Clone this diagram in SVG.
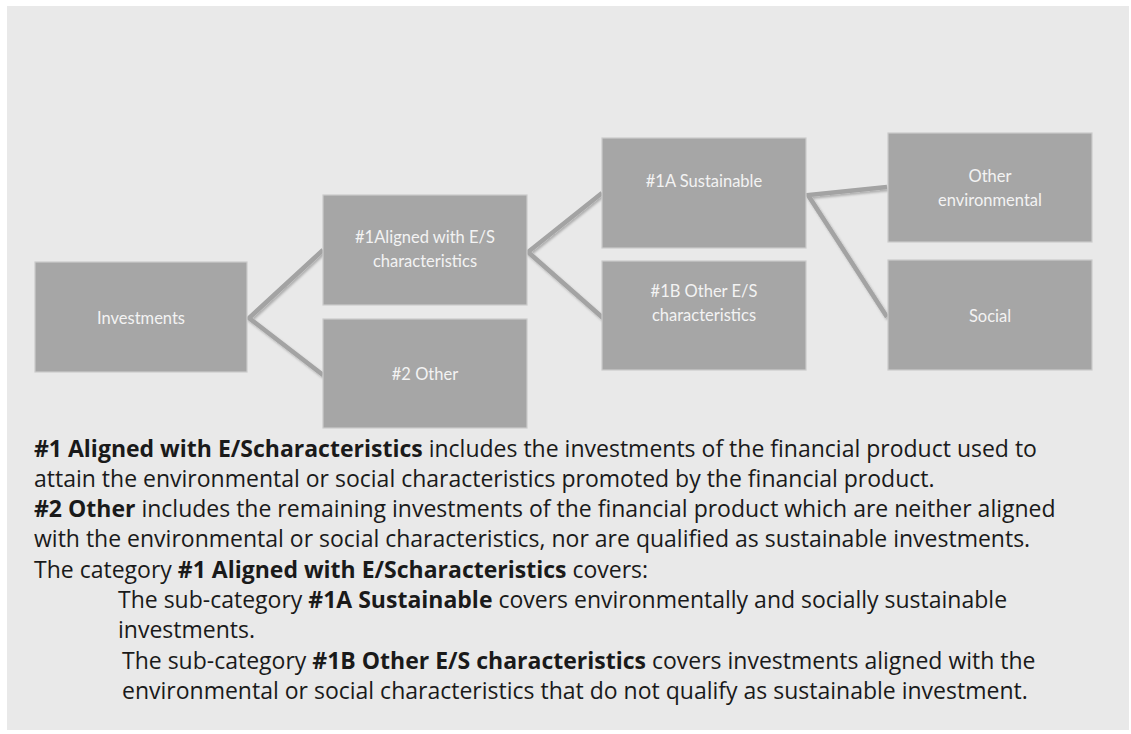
<svg xmlns="http://www.w3.org/2000/svg" width="1131" height="734" viewBox="0 0 1131 734">
<style>
.box{fill:#a6a6a6;stroke:#cbcbcb;stroke-width:1.2}
.bt{font-family:Lato,"Open Sans",sans-serif;font-size:16.5px;fill:#f3f3f3;text-anchor:middle}
.con{fill:none;stroke:#a3a3a3;stroke-width:4.5;stroke-linejoin:miter;filter:url(#sh)}
.body{font-family:"Open Sans","Noto Sans",sans-serif;font-size:23px;fill:#1a1a1a}
.b{font-weight:bold}
</style>
<defs>
<filter id="sh" x="-20%" y="-20%" width="140%" height="140%">
<feDropShadow dx="1.5" dy="2" stdDeviation="1.2" flood-color="#000" flood-opacity="0.25"/>
</filter>
</defs>
<rect x="0" y="0" width="1131" height="734" fill="#ffffff"/>
<rect x="7" y="6" width="1122" height="724" fill="#e9e9e9"/>
<g id="connectors">
<path class="con" d="M323,250 L249,318 L323,375"/>
<path class="con" d="M602,193 L528,252 L603,318"/>
<path class="con" d="M887,187 L808,195 L887,317"/>
</g>
<g id="investments">
<rect class="box" x="35" y="262" width="212" height="110"/>
<text class="bt" x="141" y="324">Investments</text>
</g>
<g id="aligned">
<rect class="box" x="323" y="195" width="204" height="110"/>
<text class="bt" x="425" y="243">#1Aligned with E/S</text>
<text class="bt" x="425" y="267">characteristics</text>
</g>
<g id="other2">
<rect class="box" x="323" y="319" width="204" height="109"/>
<text class="bt" x="425" y="380">#2 Other</text>
</g>
<g id="sustainable1a">
<rect class="box" x="602" y="138" width="204" height="110"/>
<text class="bt" x="704" y="187">#1A Sustainable</text>
</g>
<g id="other1b">
<rect class="box" x="602" y="261" width="204" height="109"/>
<text class="bt" x="704" y="297">#1B Other E/S</text>
<text class="bt" x="704" y="321">characteristics</text>
</g>
<g id="otherenv">
<rect class="box" x="888" y="133" width="204" height="109"/>
<text class="bt" x="990" y="182">Other</text>
<text class="bt" x="990" y="206">environmental</text>
</g>
<g id="social">
<rect class="box" x="888" y="260" width="204" height="110"/>
<text class="bt" x="990" y="322">Social</text>
</g>
<g id="description">
<text class="body" x="34" y="457"><tspan class="b">#1 Aligned with E/Scharacteristics</tspan> includes the investments of the financial product used to</text>
<text class="body" x="34" y="487">attain the environmental or social characteristics promoted by the financial product.</text>
<text class="body" x="34" y="517"><tspan class="b">#2 Other</tspan> includes the remaining investments of the financial product which are neither aligned</text>
<text class="body" x="34" y="547">with the environmental or social characteristics, nor are qualified as sustainable investments.</text>
<text class="body" x="34" y="578">The category <tspan class="b">#1 Aligned with E/Scharacteristics</tspan> covers:</text>
<text class="body" x="118" y="608">The sub-category <tspan class="b">#1A Sustainable</tspan> covers environmentally and socially sustainable</text>
<text class="body" x="118" y="638">investments.</text>
<text class="body" x="122" y="669">The sub-category <tspan class="b">#1B Other E/S characteristics</tspan> covers investments aligned with the</text>
<text class="body" x="122" y="699">environmental or social characteristics that do not qualify as sustainable investment.</text>
</g>
</svg>
